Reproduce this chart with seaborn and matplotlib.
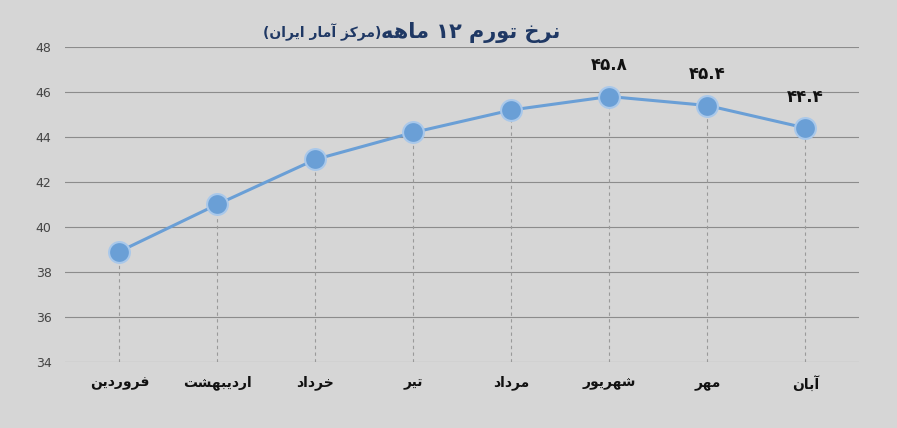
import numpy as np
import pandas as pd
import seaborn as sns
import matplotlib.pyplot as plt

# data
months = ["فروردین", "اردیبهشت", "خرداد", "تیر", "مرداد", "شهریور", "مهر", "آبان"]
inflation = [38.9, 41.0, 43.0, 44.2, 45.2, 45.8, 45.4, 44.4]
labelled = ["", "", "", "", "", "۴۵.۸", "۴۵.۴", "۴۴.۴"]
yticks = [34, 36, 38, 40, 42, 44, 46, 48]

# tiny arabic shaper (isolated, final, initial, medial)
FORMS = {
    "ا": ("\uFE8D", "\uFE8E", None, None), "آ": ("\uFE81", "\uFE82", None, None),
    "ب": ("\uFE8F", "\uFE90", "\uFE91", "\uFE92"), "ت": ("\uFE95", "\uFE96", "\uFE97", "\uFE98"),
    "خ": ("\uFEA5", "\uFEA6", "\uFEA7", "\uFEA8"), "د": ("\uFEA9", "\uFEAA", None, None),
    "ر": ("\uFEAD", "\uFEAE", None, None), "ز": ("\uFEAF", "\uFEB0", None, None),
    "ش": ("\uFEB5", "\uFEB6", "\uFEB7", "\uFEB8"), "ف": ("\uFED1", "\uFED2", "\uFED3", "\uFED4"),
    "م": ("\uFEE1", "\uFEE2", "\uFEE3", "\uFEE4"), "ن": ("\uFEE5", "\uFEE6", "\uFEE7", "\uFEE8"),
    "ه": ("\uFEE9", "\uFEEA", "\uFEEB", "\uFEEC"), "و": ("\uFEED", "\uFEEE", None, None),
    "ی": ("\uFBFC", "\uFBFD", "\uFBFE", "\uFBFF"), "ک": ("\uFB8E", "\uFB8F", "\uFB90", "\uFB91"),
}


def shape_word(w):
    out = []
    for i, ch in enumerate(w):
        if ch not in FORMS:
            out.append(ch)
            continue
        prev = w[i - 1] if i > 0 else None
        nxt = w[i + 1] if i + 1 < len(w) else None
        jp = prev in FORMS and FORMS[prev][2] is not None
        jn = nxt in FORMS and FORMS[ch][2] is not None
        iso, fin, ini, med = FORMS[ch]
        if jp and jn:
            out.append(med)
        elif jp:
            out.append(fin)
        elif jn:
            out.append(ini)
        else:
            out.append(iso)
    return "".join(out)[::-1]


def rtl(text):
    words = text.split(" ")
    return " ".join(shape_word(w) if any(c in FORMS for c in w) else w for w in words[::-1])


df = pd.DataFrame({"x": range(len(months)), "y": inflation})

plt.rcParams['font.family'] = ['DejaVu Sans']
fig = plt.figure(figsize=(8.97, 4.28), dpi=100, facecolor="#d6d6d6")
ax = fig.add_axes([0.073, 0.155, 0.885, 0.735], facecolor="#d6d6d6")

ax.vlines(df["x"], 34, df["y"], colors="#9a9a9a", linestyles=(0, (3, 3)), linewidth=0.8, zorder=1)
sns.lineplot(data=df, x="x", y="y", ax=ax, color="#6a9fd6", linewidth=2.2, marker="o",
             markersize=15, markerfacecolor="#6a9fd6", markeredgecolor="#a9c8ea",
             markeredgewidth=1.5, zorder=3)

for x, y, t in zip(df["x"], df["y"], labelled):
    if t:
        ax.text(x, y + 1.0, t, ha="center", va="bottom", fontsize=12, fontweight="bold", color="#111111")

ax.set_ylim(34, 48)
ax.set_xlim(-0.55, 7.55)
ax.set_yticks(yticks)
ax.set_yticklabels([str(v) for v in yticks], color="#444444", fontsize=9)
ax.set_xticks(range(len(months)))
ax.set_xticklabels([rtl(m) for m in months], fontsize=10, fontweight="bold", color="#111111")
ax.tick_params(length=0, pad=10)
ax.yaxis.grid(True, color="#8c8c8c", linewidth=0.8)
ax.set_axisbelow(True)
for s in ax.spines.values():
    s.set_visible(False)
ax.set_xlabel("")
ax.set_ylabel("")

fig.text(0.625, 0.925, rtl("نرخ تورم ۱۲ ماهه"), ha="right", va="center", fontsize=15,
         fontweight="bold", color="#1f3864")
fig.text(0.425, 0.925, "(" + rtl("مرکز آمار ایران") + ")", ha="right", va="center", fontsize=10,
         fontweight="bold", color="#1f3864")

fig.savefig("out.png", dpi=100, facecolor=fig.get_facecolor())
